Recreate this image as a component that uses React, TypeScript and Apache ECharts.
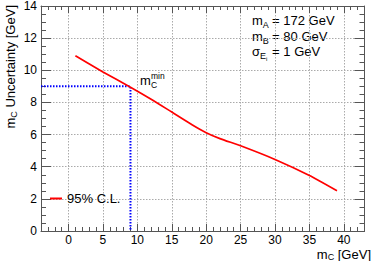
import React, { useEffect, useRef } from "react";
import * as echarts from "echarts";

// Data
const massC: number[] = [1, 5, 9, 12, 15, 18, 20, 22, 25, 30, 35, 39];
const uncertainty: number[] = [10.9, 9.9, 8.95, 8.2, 7.4, 6.6, 6.12, 5.75, 5.3, 4.45, 3.45, 2.5];
const mcMin = 9;
const uncertaintyAtMin = 9;
const xRange: number[] = [-4, 43];
const yRange: number[] = [0, 14];
const seriesName = "95% C.L.";

const FONT = "'Liberation Sans', Arial, Helvetica, sans-serif";
const AXIS_COLOR = "#555";

export default function App() {
  const ref = useRef<HTMLDivElement>(null);
  useEffect(() => {
    if (!ref.current) return;
    const chart = echarts.init(ref.current, undefined, { renderer: "svg" });

    const baseX = (position: "top" | "bottom", major: boolean, labels: boolean) => ({
      type: "value",
      position,
      min: xRange[0],
      max: xRange[1],
      ...(major ? { splitNumber: 10 } : { interval: 1 }),
      axisLine: { show: major, onZero: false, lineStyle: { color: AXIS_COLOR, width: 1 } },
      axisTick: { show: true, inside: true, length: major ? 7 : 4, lineStyle: { color: AXIS_COLOR } },
      axisLabel: labels
        ? { show: true, color: "#000", fontSize: 12, fontFamily: FONT, margin: 3, showMinLabel: false, showMaxLabel: false }
        : { show: false },
      splitLine: labels
        ? { show: true, lineStyle: { color: "#aaa", type: [1.5, 1.5], width: 1 } }
        : { show: false },
    });
    const baseY = (position: "left" | "right", major: boolean, labels: boolean) => ({
      type: "value",
      position,
      min: yRange[0],
      max: yRange[1],
      interval: major ? 2 : 0.5,
      axisLine: { show: major, onZero: false, lineStyle: { color: AXIS_COLOR, width: 1 } },
      axisTick: { show: true, inside: true, length: major ? 10 : 5, lineStyle: { color: AXIS_COLOR } },
      axisLabel: labels
        ? { show: true, color: "#000", fontSize: 12, fontFamily: FONT, margin: 4 }
        : { show: false },
      splitLine: labels
        ? { show: true, lineStyle: { color: "#aaa", type: [1.5, 1.5], width: 1 } }
        : { show: false },
    });

    const t = (text: string, x: number, y: number, size: number, extra: any = {}) => ({
      type: "text",
      x,
      y,
      silent: true,
      style: { text, fill: "#000", font: `${size}px ${FONT}`, verticalAlign: "middle", ...extra },
    });

    chart.setOption({
      animation: false,
      textStyle: { fontFamily: FONT },
      grid: { left: 41, right: 9.5, top: 6, bottom: 30, containLabel: false },
      xAxis: [baseX("bottom", true, true), baseX("bottom", false, false), baseX("top", true, false), baseX("top", false, false)],
      yAxis: [baseY("left", true, true), baseY("left", false, false), baseY("right", true, false), baseY("right", false, false)],
      legend: {
        data: [seriesName],
        left: 50,
        top: 192,
        padding: 0,
        icon: "rect",
        itemWidth: 12,
        itemHeight: 2,
        textStyle: { fontSize: 13, color: "#000", fontFamily: FONT, padding: [0, 0, 0, 0] },
      },
      series: [
        {
          name: seriesName,
          type: "line",
          xAxisIndex: 0,
          yAxisIndex: 0,
          data: massC.map((x, i) => [x, uncertainty[i]]),
          showSymbol: false,
          symbol: "none",
          smooth: 0.2,
          lineStyle: { color: "#ff0000", width: 1.7 },
          itemStyle: { color: "#ff0000" },
          z: 5,
        },
        {
          name: "min",
          type: "line",
          xAxisIndex: 0,
          yAxisIndex: 0,
          data: [
            [xRange[0], uncertaintyAtMin],
            [mcMin, uncertaintyAtMin],
            [mcMin, yRange[0]],
          ],
          showSymbol: false,
          symbol: "none",
          lineStyle: { color: "#0000ff", width: 2, type: [1.5, 1.5] },
          z: 4,
        },
      ],
      graphic: [
        // y-axis title
        {
          type: "text",
          x: 10,
          y: 5,
          rotation: Math.PI / 2,
          silent: true,
          style: {
            text: "{m|m}{s|C}{t| Uncertainty [GeV]}",
            align: "right",
            verticalAlign: "middle",
            fill: "#000",
            rich: {
              m: { fontSize: 13, fontFamily: FONT, lineHeight: 16, verticalAlign: "middle" },
              s: { fontSize: 9, fontFamily: FONT, lineHeight: 10, verticalAlign: "bottom" },
              t: { fontSize: 13, fontFamily: FONT, lineHeight: 16, verticalAlign: "middle" },
            },
          },
        },
        // x-axis title
        {
          type: "text",
          x: 371,
          y: 254.5,
          silent: true,
          style: {
            text: "{m|m}{s|C}{t| [GeV]}",
            align: "right",
            verticalAlign: "middle",
            fill: "#000",
            rich: {
              m: { fontSize: 13, fontFamily: FONT, lineHeight: 13, verticalAlign: "middle" },
              s: { fontSize: 9, fontFamily: FONT, lineHeight: 9, verticalAlign: "bottom" },
              t: { fontSize: 13, fontFamily: FONT, lineHeight: 13, verticalAlign: "middle" },
            },
          },
        },
        // m_C^min annotation
        t("m", 140, 80, 13),
        t("C", 151, 84.5, 8.5),
        t("min", 151, 75.5, 8.5),
        // info box
        t("m", 252, 20.5, 13),
        t("A", 262.8, 25, 9),
        t(" = 172 GeV", 268.5, 20.5, 13),
        t("m", 252, 36, 13),
        t("B", 262.8, 40.5, 9),
        t(" = 80 GeV", 268.5, 36, 13),
        t("σ", 252, 51.5, 13),
        t("E", 260, 56, 9),
        t("i", 266, 59, 6),
        t(" = 1 GeV", 268.5, 51.5, 13),
      ],
    });
    return () => chart.dispose();
  }, []);
  return <div ref={ref} style={{ width: 374, height: 261, position: "absolute", left: 0, top: 0 }} />;
}
